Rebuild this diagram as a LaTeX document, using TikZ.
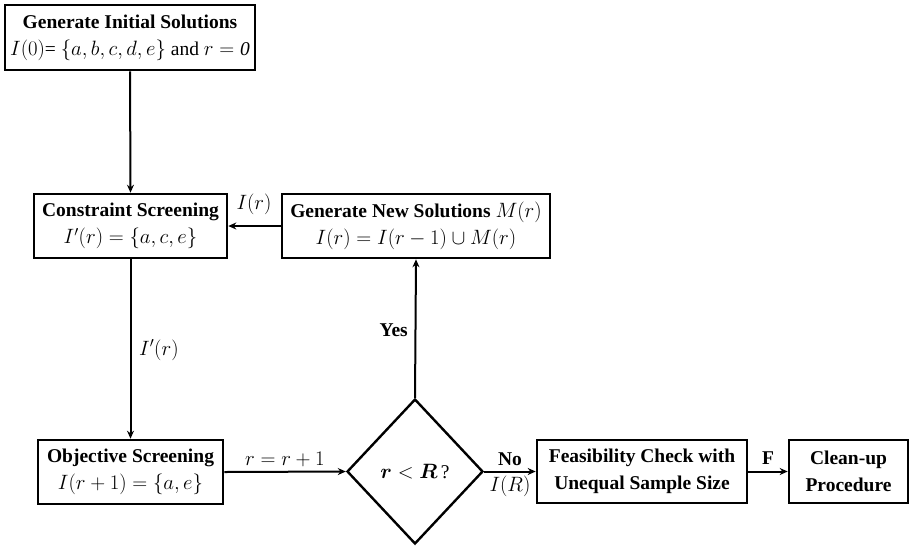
\documentclass[tikz,border=0pt]{standalone}
\usepackage{fontspec}
\setmainfont{Liberation Serif}
\usepackage{bm}
\usetikzlibrary{arrows.meta,shapes.geometric}
\begin{document}
\begin{tikzpicture}[x=1pt,y=-1pt,
  font=\fontsize{19.5}{27}\selectfont,
  box/.style={draw,line width=2.6pt,align=center,inner sep=0pt},
  dec/.style={draw,line width=2.4pt,shape=diamond,inner sep=0pt,minimum width=136pt,minimum height=145pt},
  conn/.style={line width=2pt,-{Stealth[length=8pt,width=7pt]}},
  lbl/.style={inner sep=1pt}]
\useasboundingbox (0,0) rectangle (909,547);
\node[box,minimum width=250pt,minimum height=65pt] (init) at (130,37.5)
  {\textbf{Generate Initial Solutions}\\$I(0)$= $\{a,b,c,d,e\}$ and $r=\mathit{0}$};
\node[box,minimum width=193pt,minimum height=64pt] (cons) at (130.5,226)
  {\textbf{Constraint Screening}\\$I'(r)=\{a,c,e\}$};
\node[box,minimum width=268pt,minimum height=64pt] (gen) at (416,226)
  {\textbf{Generate New Solutions} $M(r)$\\$I(r)=I(r-1)\cup M(r)$};
\node[box,minimum width=185pt,minimum height=64pt] (obj) at (130.5,472)
  {\textbf{Objective Screening}\\$I(r+1)=\{a,e\}$};
\node[dec] (dia) at (415,471.5) {$\bm{r}<\bm{R}$\,?};
\node[box,minimum width=210pt,minimum height=63pt] (feas) at (642,471.5)
  {\textbf{Feasibility Check with}\\\textbf{Unequal Sample Size}};
\node[box,minimum width=119pt,minimum height=63pt] (clean) at (848.5,471.5)
  {\textbf{Clean-up}\\\textbf{Procedure}};
\draw[conn] (init.south) -- (cons.north);
\draw[conn] (cons.south) -- (obj.north);
\draw[conn] (gen.west) -- (cons.east);
\draw[conn] (obj.east) -- (dia.west);
\draw[conn] (dia.north) -- (gen.south);
\draw[conn] (dia.east) -- (feas.west);
\draw[conn] (feas.east) -- (clean.west);
\node[lbl,anchor=west] (l1) at (138,350) {$I'(r)$};
\node[lbl,anchor=east] (l2) at (409,330) {\textbf{Yes}};
\node[lbl] (l3) at (254,204) {$I(r)$};
\node[lbl] (l4) at (285,459) {$r=r+1$};
\node[lbl] (l5) at (510,459) {\textbf{No}};
\node[lbl] (l6) at (510,486) {$I(R)$};
\node[lbl] (l7) at (768,458) {\textbf{F}};
\end{tikzpicture}
\end{document}
